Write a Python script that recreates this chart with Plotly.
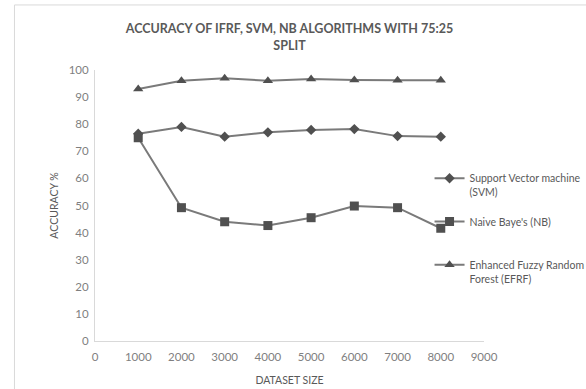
import plotly.graph_objects as go

dataset_size = [1000, 2000, 3000, 4000, 5000, 6000, 7000, 8000]
svm = [76.5, 79, 75.4, 77, 77.9, 78.2, 75.6, 75.4]
nb = [75, 49.2, 44, 42.6, 45.5, 49.8, 49.2, 41.6]
efrf = [93, 96, 97, 96, 96.7, 96.3, 96.2, 96.2]

x_ticks = [0, 1000, 2000, 3000, 4000, 5000, 6000, 7000, 8000, 9000]
y_ticks = [0, 10, 20, 30, 40, 50, 60, 70, 80, 90, 100]

line_col = "#7a7a7a"
mark_col = "#505050"
font_fam = "Lato, 'Open Sans', sans-serif"

fig = go.Figure()
fig.add_trace(go.Scatter(
    x=dataset_size, y=svm, mode="lines+markers",
    name="Support Vector machine<br>(SVM)", legendgroup="a",
    line=dict(color=line_col, width=2),
    marker=dict(symbol="diamond", size=8, color=mark_col)))
fig.add_trace(go.Scatter(
    x=dataset_size, y=nb, mode="lines+markers",
    name="Naive Baye's (NB)<br> ", legendgroup="b",
    line=dict(color=line_col, width=2),
    marker=dict(symbol="square", size=9, color=mark_col)))
fig.add_trace(go.Scatter(
    x=dataset_size, y=efrf, mode="lines+markers",
    name="Enhanced Fuzzy Random<br>Forest (EFRF)", legendgroup="c",
    line=dict(color=line_col, width=2),
    marker=dict(symbol="triangle-up", size=9, color=mark_col)))

fig.update_layout(
    width=586, height=389,
    margin=dict(l=95, r=102, t=70, b=48, autoexpand=False),
    paper_bgcolor="white", plot_bgcolor="white",
    font=dict(family=font_fam, color="#7f7f7f", size=11),
    title=dict(
        text="ACCURACY OF IFRF, SVM, NB ALGORITHMS WITH 75:25<br>SPLIT",
        x=0.5, xref="paper", y=0.914, yref="container", yanchor="top",
        font=dict(family=font_fam, size=12.5, color="#595959", weight="bold")),
    xaxis=dict(range=[0, 9000], tickvals=x_ticks, ticktext=[str(v) for v in x_ticks],
               showgrid=False, zeroline=False, showline=True, linecolor="#d9d9d9",
               linewidth=1, ticks="", ticklabelstandoff=5,
               tickfont=dict(size=11.5, color="#7f7f7f"),
               title=dict(text="DATASET SIZE", font=dict(size=10.5, color="#595959"), standoff=14)),
    yaxis=dict(range=[0, 100], tickvals=y_ticks, ticktext=[str(v) for v in y_ticks],
               showgrid=False, zeroline=False, showline=True, linecolor="#d9d9d9",
               linewidth=1, ticks="", ticklabelstandoff=3,
               tickfont=dict(size=11.5, color="#7f7f7f"),
               title=dict(text="ACCURACY %", font=dict(size=10.5, color="#595959"), standoff=8)),
    legend=dict(x=0.86, y=0.65, xanchor="left", yanchor="top", bgcolor="rgba(0,0,0,0)",
                valign="top", tracegroupgap=13,
                font=dict(size=10.5, color="#595959", family=font_fam)),
    shapes=[dict(type="rect", xref="paper", yref="paper",
                 x0=-0.207, x1=1.3, y0=-0.3, y1=1.24,
                 line=dict(color="#d9d9d9", width=1), fillcolor="rgba(0,0,0,0)", layer="below")],
)

fig.write_html("out.html")
